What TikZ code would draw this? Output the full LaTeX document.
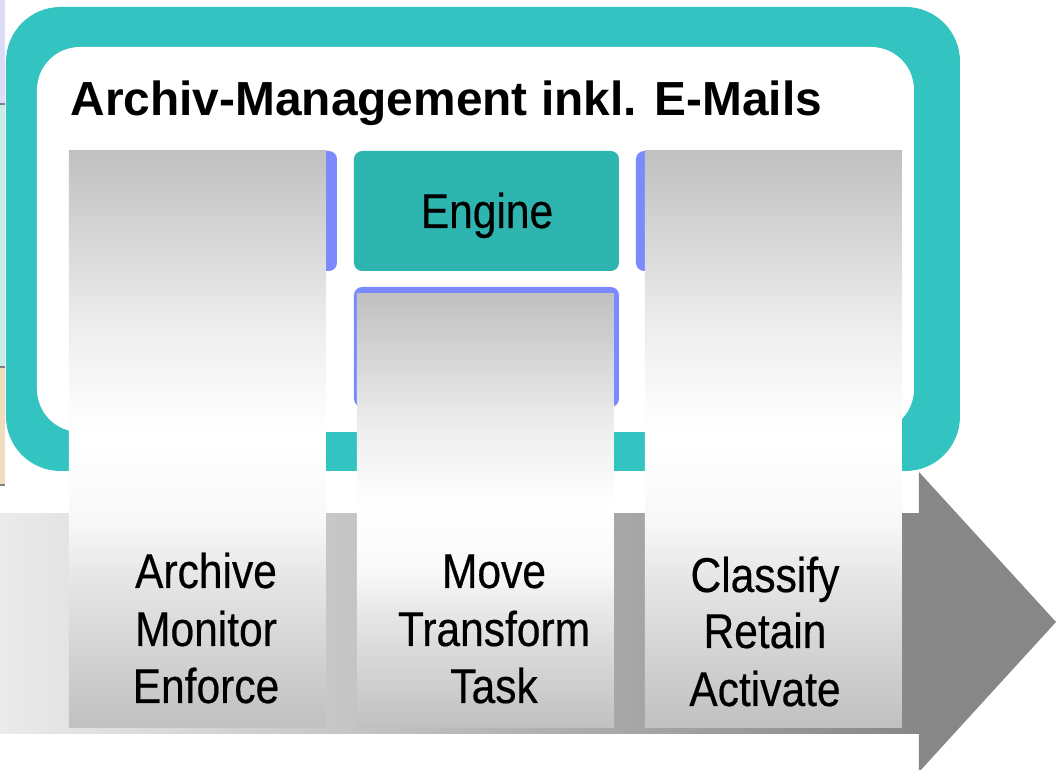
\documentclass[tikz,border=0pt]{standalone}
\usepackage{fontspec}
\setmainfont{Liberation Sans}
\newfontfamily\narrowfont{Liberation Sans}[FakeStretch=0.87,FakeBold=0.4]
\usepackage{xcolor}
\usepackage{tikz}
\usetikzlibrary{positioning}
\definecolor{frameteal}{RGB}{51,195,192}
\definecolor{engineteal}{RGB}{46,181,176}
\definecolor{tabblue}{RGB}{123,139,255}
\definecolor{colgray}{RGB}{192,192,192}
\definecolor{arrowlight}{RGB}{235,235,235}
\definecolor{arrowdark}{RGB}{135,135,135}
\definecolor{leftlav}{RGB}{220,220,248}
\definecolor{leftmint}{RGB}{198,236,232}
\definecolor{leftpeach}{RGB}{242,220,192}
\pgfdeclareverticalshading{stageshade}{100bp}{color(0bp)=(colgray); color(25bp)=(colgray);
  color(38.5bp)=(colgray!37!white); color(43bp)=(colgray!11!white); color(50bp)=(white);
  color(52.5bp)=(colgray!5!white); color(59.5bp)=(colgray!27!white); color(75bp)=(colgray);
  color(100bp)=(colgray)}

\tikzset{
  stagebox/.style={shading=stageshade},
  stagetext/.style={font=\narrowfont\fontsize{13.9}{16.2}\selectfont,inner sep=0pt,anchor=base}
}

\begin{document}
\begin{tikzpicture}[x=0.01cm,y=-0.01cm]
        \useasboundingbox (0,0) rectangle (1056,770);
        % bits of the slide behind
        \fill[leftlav] (0,0) rectangle (5,103);
        \fill[leftmint] (0,105) rectangle (5,366);
        \fill[leftpeach] (0,368) rectangle (5,484);
        \foreach \y in {104,367,485}{
          \draw[gray,line width=0.4pt] (0,\y) -- (5,\y);
        }
        % frame
        \fill[frameteal,rounded corners=15.5pt] (6,7) rectangle (960,471);
        \fill[white,rounded corners=12.2pt] (37,47) rectangle (914,432);
        % arrow
        \shade[left color=arrowlight,right color=arrowdark] (0,514) rectangle (920,734);
        \fill[arrowdark] (919,472) -- (1056,622) -- (919,772) -- cycle;
        % tabs behind the columns
        \foreach \xa/\ya/\xb/\yb in {80/151/337/271, 354/287/619/407, 636/151/890/271}{
          \fill[tabblue,rounded corners=2.3pt] (\xa,\ya) rectangle (\xb,\yb);
        }
        \fill[engineteal,rounded corners=2.3pt] (354,151) rectangle (619,271);
        \node[stagetext] (engine) at (487,228) {Engine};
        % columns
        \foreach \xa/\ya/\xb in {69/151/326, 357/294/614, 645/151/902}{
          \shade[stagebox] (\xa,\ya) rectangle (\xb,728);
        }
        \node[font=\bfseries\fontsize{13.6}{16}\selectfont,anchor=base west,inner sep=0pt] (title) at (70,116) {Archiv-Management inkl. E-Mails};
        \foreach \x/\y/\txt [count=\i] in {
          206/588/Archive, 206/646/Monitor, 206/703/Enforce,
          494/588/Move, 494/646/Transform, 494/703/Task,
        765/592/Classify, 765/648/Retain, 765/706/Activate}{
          \node[stagetext] (stage\i) at (\x,\y) {\txt};
        }
      \end{tikzpicture}
\end{document}
